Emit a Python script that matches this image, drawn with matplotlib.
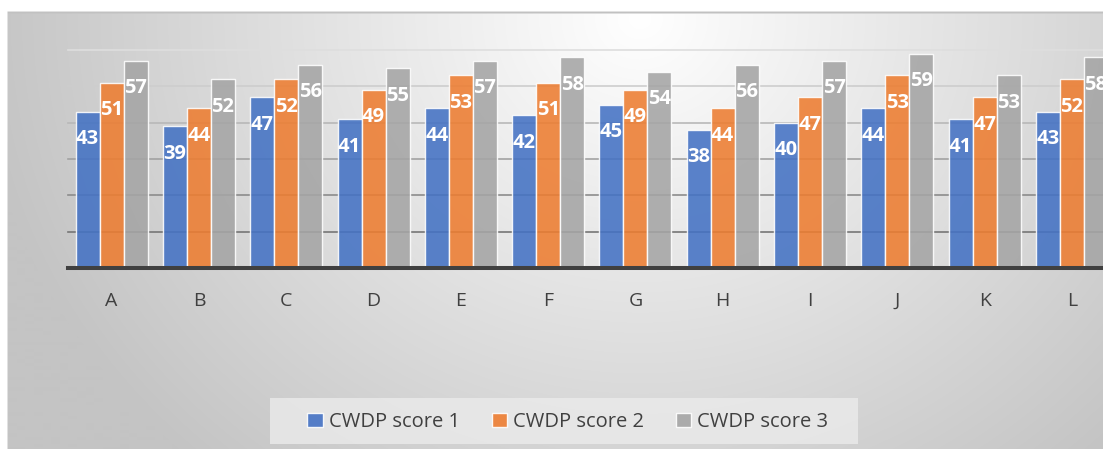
import numpy as np
import matplotlib
matplotlib.use("Agg")
import matplotlib.pyplot as plt
from matplotlib.patches import Rectangle

categories = ["A", "B", "C", "D", "E", "F", "G", "H", "I", "J", "K", "L"]
score1 = [43, 39, 47, 41, 44, 42, 45, 38, 40, 44, 41, 43]
score2 = [51, 44, 52, 49, 53, 51, 49, 44, 47, 53, 47, 52]
score3 = [57, 52, 56, 55, 57, 58, 54, 56, 57, 59, 53, 58]
series_names = ["CWDP score 1", "CWDP score 2", "CWDP score 3"]
colors = ["#4472C4", "#ED7D31", "#A5A5A5"]
grid_values = [10, 20, 30, 40, 50, 60]
grid_colors = ["#767676", "#8c8c8c", "#a2a2a2", "#b8b8b8", "#cdcdcd", "#dedede"]

W, H = 1103, 450
DPI = 100
plt.rcParams['font.family'] = ['Open Sans', 'DejaVu Sans']

fig = plt.figure(figsize=(W / DPI, H / DPI), dpi=DPI)

# background gradient image
yy, xx = np.mgrid[0:H, 0:W]
cx, cy = 640.0, 20.0
d = np.sqrt((xx - cx) ** 2 + ((yy - cy) / 0.9) ** 2)
v = np.clip(255 - 0.089 * d, 196, 255) / 255.0
img = np.ones((H, W, 3))
img[..., 0] = v
img[..., 1] = v
img[..., 2] = v
img[:13, :, :] = 1.0
img[:, :8, :] = 1.0
img[13:15, 8:, :] = 0.76
bg = fig.add_axes([0, 0, 1, 1], zorder=-5)
bg.imshow(img, aspect='auto', interpolation='bilinear')
bg.set_xlim(0, W)
bg.set_ylim(H, 0)
bg.axis('off')

# legend box
bg.add_patch(Rectangle((270, 398), 588, 46, facecolor='#ebebeb', alpha=0.8,
                       edgecolor='none'))

# main axes in pixel geometry
left_px, right_px = 68.0, 68.0 + 12 * 87.3
base_px, top_px = 268.0, 50.0
ax = fig.add_axes([left_px / W, (H - base_px) / H,
                   (right_px - left_px) / W, (base_px - top_px) / H])
ax.set_facecolor('none')
ax.set_xlim(-0.5, len(categories) - 0.5)
ax.set_ylim(0, 60)

for gv, gc in zip(grid_values, grid_colors):
    ax.axhline(gv, color=gc, lw=1.2, zorder=1, clip_on=False)

x = np.arange(len(categories))
bw = 0.275
for i, (vals, col, name) in enumerate(zip([score1, score2, score3], colors, series_names)):
    xs = x + (i - 1) * bw
    ax.bar(xs, vals, width=bw, color=col, alpha=0.88,
           edgecolor=(1, 1, 1, 0.55), linewidth=1.0, zorder=2, label=name)
    for xi, vi in zip(xs, vals):
        ax.annotate(str(vi), (xi, vi), xytext=(0, -27.5 * 72 / DPI), textcoords='offset points',
                    ha='center', va='center', color='white', fontsize=14.5,
                    fontweight='bold', zorder=4, annotation_clip=False)

for s in ['top', 'right', 'left']:
    ax.spines[s].set_visible(False)
ax.spines['bottom'].set_color('#404040')
ax.spines['bottom'].set_linewidth(2.9)
ax.spines['bottom'].set_zorder(5)
ax.set_yticks([])
ax.set_xticks(x)
ax.set_xticklabels(categories, fontsize=14, color='#404040')
ax.tick_params(axis='x', length=0, pad=17)

handles, labels = ax.get_legend_handles_labels()
leg = fig.legend(handles, labels, loc='center', bbox_to_anchor=(568 / W, 1 - 422 / H), ncol=3,
                 fontsize=14.5, frameon=False, handlelength=0.75, handleheight=0.75,
                 handletextpad=0.3, columnspacing=1.6, borderpad=0.3)
for t in leg.get_texts():
    t.set_color('#404040')
for h in leg.legend_handles:
    h.set_alpha(0.9)

fig.savefig('out.png', dpi=DPI)
